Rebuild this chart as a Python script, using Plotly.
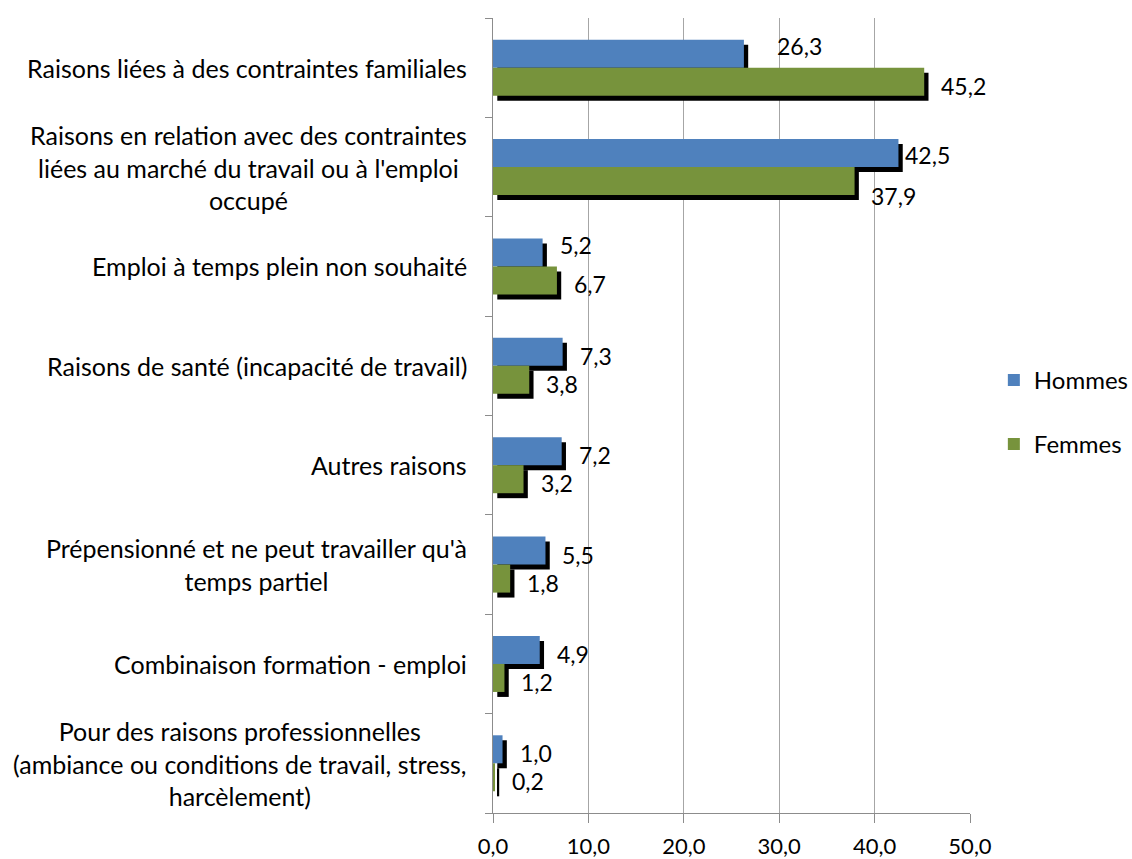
import plotly.graph_objects as go

categories = [
    "Raisons liées à des contraintes familiales",
    "Raisons en relation avec des contraintes<br>liées au marché du travail ou à l'emploi<br>occupé",
    "Emploi à temps plein non souhaité",
    "Raisons de santé (incapacité de travail)",
    "Autres raisons",
    "Prépensionné et ne peut travailler qu'à<br>temps partiel",
    "Combinaison formation - emploi",
    "Pour des raisons professionnelles<br>(ambiance ou conditions de travail, stress,<br>harcèlement)",
]
hommes = [26.3, 42.5, 5.2, 7.3, 7.2, 5.5, 4.9, 1.0]
femmes = [45.2, 37.9, 6.7, 3.8, 3.2, 1.8, 1.2, 0.2]
x_ticks = [0, 10, 20, 30, 40, 50]

# styling
FONT = "Lato"
FS_CAT = 25
FS_VAL = 23
FS_TICK = 22
FS_LEG = 24
BLUE = "#4F81BD"
GREEN = "#77933C"
BW = 0.282       # bar thickness (band units)
SH_Y = 0.05      # shadow vertical offset (band units)
SH_X = 0.45      # shadow horizontal offset (value units)

n = len(categories)
ypos = [n - 1 - i for i in range(n)]

def fmt(v):
    return f"{v:.1f}".replace(".", ",")

fig = go.Figure()
# shadows + bars: blue shadow, blue bar, green shadow, green bar
fig.add_trace(go.Bar(y=ypos, x=hommes, base=SH_X, orientation="h", width=BW,
                     offset=-SH_Y, marker=dict(color="black", line=dict(width=0)),
                     showlegend=False, hoverinfo="skip"))
fig.add_trace(go.Bar(y=ypos, x=hommes, orientation="h", width=BW, offset=0,
                     name="Hommes", legendgroup="h",
                     marker=dict(color=BLUE, line=dict(width=0))))
fig.add_trace(go.Bar(y=ypos, x=femmes, base=SH_X, orientation="h", width=BW,
                     offset=-BW - SH_Y, marker=dict(color="black", line=dict(width=0)),
                     showlegend=False, hoverinfo="skip"))
fig.add_trace(go.Bar(y=ypos, x=femmes, orientation="h", width=BW, offset=-BW,
                     name="Femmes", legendgroup="f",
                     marker=dict(color=GREEN, line=dict(width=0))))

# data labels (pixel nudges mimic Excel's placement)
nudge_h = {0: (31, 8), 1: (5, -2), 2: (15, 7)}
nudge_f = {1: (14, -15)}
for i, y in enumerate(ypos):
    dx, dy = nudge_h.get(i, (15, -4))
    fig.add_annotation(x=hommes[i], y=y + BW / 2, text=fmt(hommes[i]), showarrow=False,
                       xanchor="left", yanchor="middle", xshift=dx, yshift=dy,
                       font=dict(family=FONT, size=FS_VAL, color="black"))
    dx, dy = nudge_f.get(i, (15, -4))
    fig.add_annotation(x=femmes[i], y=y - BW / 2, text=fmt(femmes[i]), showarrow=False,
                       xanchor="left", yanchor="middle", xshift=dx, yshift=dy,
                       font=dict(family=FONT, size=FS_VAL, color="black"))

# category labels (centered multi-line)
for i, y in enumerate(ypos):
    fig.add_annotation(x=0, xref="paper", y=y, yref="y", text=categories[i],
                       showarrow=False, xanchor="right", yanchor="middle",
                       align="center", xshift=-24,
                       font=dict(family=FONT, size=FS_CAT, color="black"))

fig.update_layout(
    width=1132, height=859,
    margin=dict(l=493, r=162, t=18, b=46, autoexpand=False),
    paper_bgcolor="white", plot_bgcolor="white",
    barmode="overlay",
    font=dict(family=FONT, size=FS_TICK, color="black"),
    legend=dict(x=1.05, y=0.504, xanchor="left", yanchor="middle",
                tracegroupgap=30, font=dict(family=FONT, size=FS_LEG, color="black"),
                bgcolor="rgba(0,0,0,0)"),
    xaxis=dict(range=[0, 50], tickvals=x_ticks, ticktext=[fmt(v) for v in x_ticks],
               showgrid=True, gridcolor="#A6A6A6", gridwidth=1,
               showline=True, linecolor="#8C8C8C", linewidth=1,
               ticks="outside", ticklen=9, tickcolor="#8C8C8C",
               ticklabelstandoff=5,
               tickfont=dict(family=FONT, size=FS_TICK, color="black"),
               zeroline=False, fixedrange=True, automargin=False),
    yaxis=dict(range=[-0.5, n - 0.5], tickvals=[k - 0.5 for k in range(n + 1)],
               ticktext=[""] * (n + 1), showgrid=False,
               showline=True, linecolor="#8C8C8C", linewidth=1,
               ticks="outside", ticklen=7, tickcolor="#8C8C8C",
               zeroline=False, fixedrange=True, automargin=False),
)

fig.write_html("out.html", config={"displayModeBar": False},
               post_script="document.body.style.margin='0';document.body.style.overflow='hidden';")
